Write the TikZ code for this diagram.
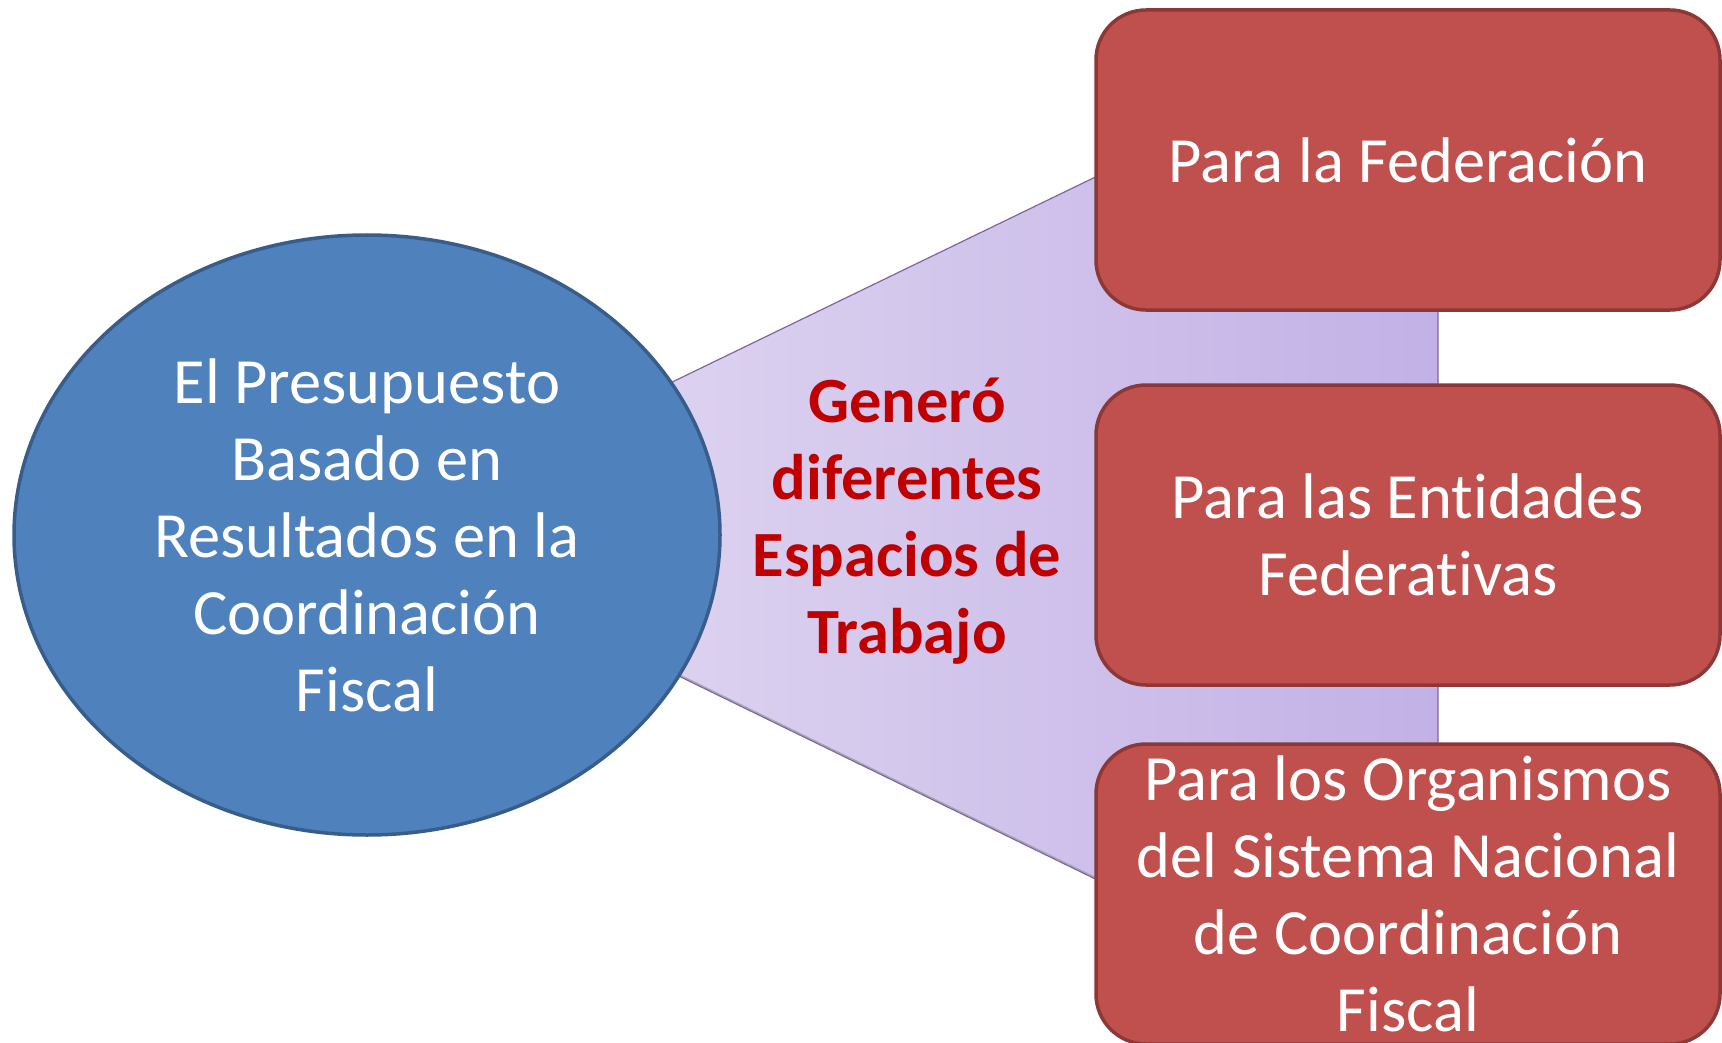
\documentclass[tikz,border=0pt]{standalone}
\usepackage{fontspec}
\setmainfont{Carlito}[Ligatures=NoCommon]
\usetikzlibrary{shapes.geometric}
\newcommand{\brklig}{\kern0pt{}}
\definecolor{ellfill}{HTML}{4F81BD}
\definecolor{elldraw}{HTML}{385D8A}
\definecolor{boxfill}{HTML}{C0504D}
\definecolor{boxdraw}{HTML}{8C3836}
\definecolor{triL}{HTML}{E6DEF3}
\definecolor{triR}{HTML}{C2B1E6}
\definecolor{triedge}{HTML}{8064A2}
\definecolor{midred}{HTML}{C00000}
\tikzset{
  bigtext/.style={font=\fontsize{64.5}{77}\selectfont, align=center},
  ellnode/.style={ellipse, fill=ellfill, draw=elldraw, line width=3.5pt,
    minimum width=706pt, minimum height=600pt, inner sep=0pt, text=white, bigtext},
  boxnode/.style={rectangle, rounded corners=50pt, fill=boxfill, draw=boxdraw, line width=3.5pt,
    minimum width=624pt, minimum height=300pt, inner sep=0pt, text=white, bigtext},
  midtext/.style={bigtext, text=midred, font=\fontsize{64.5}{77}\selectfont\bfseries}
}
\begin{document}
\begin{tikzpicture}[x=1pt,y=-1pt]
\useasboundingbox (0,0) rectangle (1722,1043);
\clip (0,0) rectangle (1722,1043);
% fan / triangle
\coordinate (apex) at (373,527);
\coordinate (trtop) at (1438,11);
\coordinate (trbot) at (1438,1046);
\shade[left color=triL, right color=triR] (apex) -- (trtop) -- (trbot) -- cycle;
\draw[gray!70, line width=1.2pt] ([yshift=1.5pt]apex) -- ([yshift=1.5pt]trbot);
\draw[triedge, line width=1.2pt] (apex) -- (trtop) -- (trbot) -- cycle;
% central ellipse
\node[ellnode] (budget) at (367,535) {El Presupuesto\\Basado en\\Resultados en la\\Coordinación\\Fiscal};
% boxes
\node[boxnode] (fed) at (1408,160) {Para la Federación};
\node[boxnode] (ent) at (1408,535) {Para las Ent\brklig idades\\Federat\brklig ivas};
\node[boxnode] (org) at (1408,894) {Para los Organismos\\del Sistema Nacional\\de Coordinación\\Fiscal};
% middle label
\node[midtext] (gen) at (907,521) {Generó\\diferentes\\Espacios de\\Trabajo};
\end{tikzpicture}
\end{document}
